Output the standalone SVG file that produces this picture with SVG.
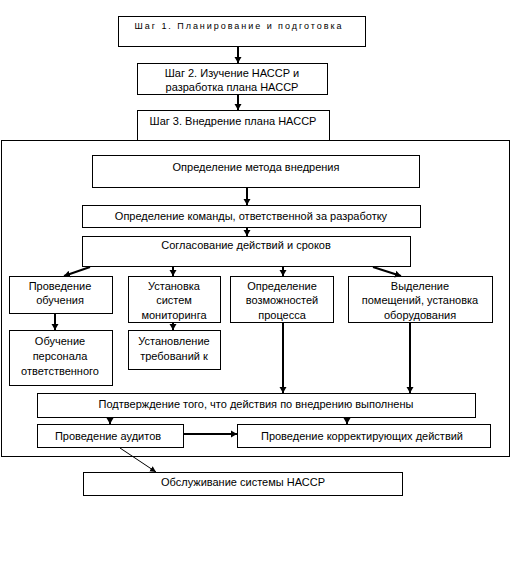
<svg xmlns="http://www.w3.org/2000/svg" width="512" height="566" viewBox="0 0 512 566">
<style>
rect{fill:#fff;stroke:#000;stroke-width:1}
text{font-family:"Liberation Sans",Arial,sans-serif;font-size:11px;fill:#000;text-anchor:middle}
.c line{stroke:#000;stroke-width:2}
.c line.t{stroke-width:1}
</style>
<defs>
<marker id="a" markerUnits="userSpaceOnUse" markerWidth="8" markerHeight="8" refX="6" refY="4" orient="auto">
<path d="M0,0.5 L6,4 L0,7.5 Z" fill="#000"/>
</marker>
<marker id="s" markerUnits="userSpaceOnUse" markerWidth="8" markerHeight="8" refX="6" refY="4" orient="auto">
<path d="M0,1 L6,4 L0,7 Z" fill="#000"/>
</marker>
</defs>
<rect width="512" height="566" style="stroke:none"/>
<g id="outer"><rect x="1.5" y="140.5" width="508" height="316"/></g>
<g id="step1"><rect x="118.5" y="16.5" width="247" height="30"/><text x="238" y="29" textLength="207" lengthAdjust="spacing" style="font-size:9px">Шаг 1. Планирование и подготовка</text></g>
<g id="step2"><rect x="137.5" y="63.5" width="190" height="31"/><text x="232" y="77">Шаг 2. Изучение НАССР и</text><text x="232" y="91">разработка плана НАССР</text></g>
<g id="step3"><rect x="137.5" y="110.5" width="192" height="30"/><text x="233" y="125">Шаг 3. Внедрение плана НАССР</text></g>
<g id="method"><rect x="92.5" y="155.5" width="327" height="32"/><text x="256" y="171">Определение метода внедрения</text></g>
<g id="team"><rect x="82.5" y="205.5" width="338" height="22"/><text x="251" y="220">Определение команды, ответственной за разработку</text></g>
<g id="agree"><rect x="82.5" y="236.5" width="328" height="30"/><text x="246" y="249">Согласование действий и сроков</text></g>
<g id="training"><rect x="9.5" y="276.5" width="103" height="37"/><text x="60" y="290">Проведение</text><text x="60" y="304">обучения</text></g>
<g id="monitor"><rect x="128.5" y="276.5" width="92" height="46"/><text x="174" y="290">Установка</text><text x="174" y="304">систем</text><text x="174" y="319">мониторинга</text></g>
<g id="capability"><rect x="230.5" y="276.5" width="103" height="46"/><text x="282" y="290">Определение</text><text x="282" y="304">возможностей</text><text x="282" y="319">процесса</text></g>
<g id="premises"><rect x="348.5" y="276.5" width="144" height="46"/><text x="420" y="290">Выделение</text><text x="420" y="304">помещений, установка</text><text x="420" y="319">оборудования</text></g>
<g id="staff"><rect x="9.5" y="330.5" width="103" height="55"/><text x="60" y="345">Обучение</text><text x="60" y="360">персонала</text><text x="60" y="375">ответственного</text></g>
<g id="requirements"><rect x="128.5" y="330.5" width="92" height="39"/><text x="174" y="345">Установление</text><text x="174" y="360">требований к</text></g>
<g id="confirm"><rect x="37.5" y="393.5" width="438" height="24"/><text x="256" y="408">Подтверждение того, что действия по внедрению выполнены</text></g>
<g id="audit"><rect x="37.5" y="424.5" width="146" height="23"/><text x="108" y="440">Проведение аудитов</text></g>
<g id="corrective"><rect x="237.5" y="424.5" width="253" height="23"/><text x="362" y="440">Проведение корректирующих действий</text></g>
<g id="maintain"><rect x="83.5" y="472.5" width="319" height="23"/><text x="243" y="486">Обслуживание системы НАССР</text></g>
<g class="c" id="connectors">
<line x1="238" y1="47" x2="238" y2="63" marker-end="url(#a)"/>
<line x1="238" y1="95" x2="238" y2="110" marker-end="url(#a)"/>
<line x1="247" y1="188" x2="247" y2="205" marker-end="url(#a)"/>
<line x1="247" y1="228" x2="247" y2="236" marker-end="url(#a)"/>
<line x1="90" y1="267" x2="64" y2="276" marker-end="url(#a)"/>
<line x1="173" y1="267" x2="173" y2="276" marker-end="url(#a)"/>
<line x1="283" y1="267" x2="283" y2="276" marker-end="url(#a)"/>
<line x1="373" y1="267" x2="401" y2="276" marker-end="url(#a)"/>
<line x1="55" y1="314" x2="55" y2="330" marker-end="url(#a)"/>
<line x1="173" y1="323" x2="173" y2="330" marker-end="url(#a)"/>
<line x1="283" y1="323" x2="283" y2="393" marker-end="url(#a)"/>
<line x1="410" y1="323" x2="410" y2="393" marker-end="url(#a)"/>
<line x1="110" y1="418" x2="110" y2="424" marker-end="url(#a)"/>
<line x1="347" y1="418" x2="347" y2="424" marker-end="url(#a)"/>
<line x1="184" y1="434" x2="237" y2="434" marker-end="url(#a)"/>
<line class="t" x1="120" y1="448" x2="156" y2="472" marker-end="url(#s)"/>
</g>
</svg>
